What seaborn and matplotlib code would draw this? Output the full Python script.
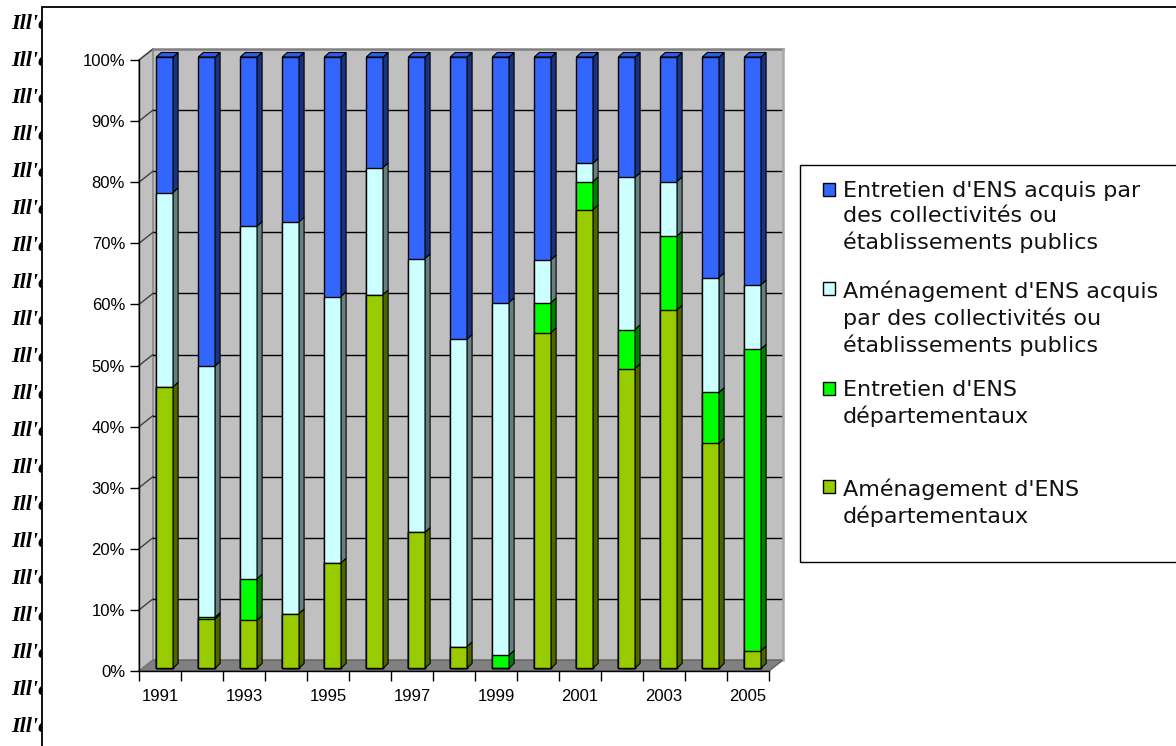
import matplotlib
matplotlib.use('Agg')
import matplotlib.pyplot as plt
import seaborn as sns
import pandas as pd
import numpy as np
from matplotlib.patches import Polygon, Rectangle
from matplotlib.lines import Line2D
from matplotlib.transforms import ScaledTranslation, IdentityTransform

years = [str(y) for y in range(1991, 2006)]
# parts in % of each year's total
amen_dept = [46.0, 8.0, 7.8, 8.9, 17.2, 61.1, 22.2, 3.5, 0.0, 54.9, 75.0, 49.0, 58.6, 36.8, 2.8]
entr_dept = [0.0, 0.3, 6.8, 0.0, 0.0, 0.0, 0.0, 0.0, 2.1, 4.9, 4.6, 6.4, 12.1, 8.3, 49.4]
amen_acq = [31.8, 41.1, 57.7, 64.1, 43.6, 20.8, 44.8, 50.3, 57.7, 7.0, 3.0, 24.9, 8.9, 18.8, 10.5]
entr_acq = [22.2, 50.6, 27.7, 27.0, 39.2, 18.1, 33.0, 46.2, 40.2, 33.2, 17.4, 19.7, 20.4, 36.1, 37.3]

labels = ["Entretien d'ENS acquis par\ndes collectivités ou\nétablissements publics",
          "Aménagement d'ENS acquis\npar des collectivités ou\nétablissements publics",
          "Entretien d'ENS\ndépartementaux",
          "Aménagement d'ENS\ndépartementaux"]
front_cols = ['#3366FF', '#CCFFFF', '#00FF00', '#99CC00']
side_cols = ['#1A3380', '#668080', '#008000', '#4D6600']
top_col = '#2E5CE6'

W, H = 1176, 746
plt.rcParams['font.family'] = ['Liberation Sans', 'DejaVu Sans']

df = pd.DataFrame({'annee': years, 'amen_dept': amen_dept, 'entr_dept': entr_dept,
                   'amen_acq': amen_acq, 'entr_acq': entr_acq})
tot = df[['amen_dept', 'entr_dept', 'amen_acq', 'entr_acq']].sum(axis=1)
for c in ['amen_dept', 'entr_dept', 'amen_acq', 'entr_acq']:
    df[c] = df[c] / tot * 100
# stacked bottoms / tops, order: blue, cyan, green, olive
c1 = df['amen_dept']
c2 = c1 + df['entr_dept']
c3 = c2 + df['amen_acq']
c4 = c3 + df['entr_acq']
tops = [c4, c3, c2, c1]
bottoms = [c3, c2, c1, c1 * 0]

fig = plt.figure(figsize=(W / 100, H / 100), dpi=100)
ax = fig.add_axes([139 / W, (H - 671) / H, 630 / W, 611 / H])

# 3D offsets in pixels (right, up)
WALL = np.array([14.0, 11.0])
FRONT = np.array([4.7, 3.0])
DEPTH = np.array([5.0, 4.5])

for i in range(4):
    n0 = len(ax.patches)
    sns.barplot(data=df.assign(v=tops[i]), x='annee', y='v', color=front_cols[i],
                saturation=1, width=0.4, edgecolor='black', linewidth=1,
                errorbar=None, ax=ax, zorder=3)
    for p in ax.patches[n0:]:
        p.set_transform(ax.transData + ScaledTranslation(FRONT[0] / 100, FRONT[1] / 100,
                                                         fig.dpi_scale_trans))
        p.set_clip_on(False)

ax.set_xlim(-0.5, 14.5)
ax.set_ylim(0, 100)
ax.patch.set_visible(False)
fig.canvas.draw()

def disp(x, y, off=(0, 0)):
    return ax.transData.transform((x, y)) + np.array(off)

# walls and floor
ident = IdentityTransform()
back = [disp(-0.5, 0, WALL), disp(14.5, 0, WALL), disp(14.5, 100, WALL), disp(-0.5, 100, WALL)]
ax.add_patch(Polygon(back, closed=True, fc='#C0C0C0', ec='none', transform=ident,
                     clip_on=False, zorder=0.5))
leftw = [disp(-0.5, 0), disp(-0.5, 0, WALL), disp(-0.5, 100, WALL), disp(-0.5, 100)]
ax.add_patch(Polygon(leftw, closed=True, fc='#C0C0C0', ec='#808080', lw=1, transform=ident,
                     clip_on=False, zorder=0.5))
floor = [disp(-0.5, 0), disp(14.5, 0), disp(14.5, 0, WALL), disp(-0.5, 0, WALL)]
ax.add_patch(Polygon(floor, closed=True, fc='#808080', ec='#606060', lw=1, transform=ident,
                     clip_on=False, zorder=0.6))
for v in range(10, 100, 10):
    a, b = disp(-0.5, v, WALL), disp(14.5, v, WALL)
    ax.add_line(Line2D([a[0], b[0]], [a[1], b[1]], color='black', lw=1, transform=ident,
                       clip_on=False, zorder=0.7))
for v in range(0, 101, 10):
    a, b = disp(-0.5, v), disp(-0.5, v, WALL)
    ax.add_line(Line2D([a[0], b[0]], [a[1], b[1]], color='#404040' if v else '#808080',
                       lw=1, transform=ident, clip_on=False, zorder=0.7))
a, b = disp(-0.5, 100, WALL), disp(14.5, 100, WALL)
ax.add_line(Line2D([a[0], b[0]], [a[1], b[1]], color='#808080', lw=1.8, transform=ident,
                   clip_on=False, zorder=0.7))
a, b = disp(14.5, 0, WALL), disp(14.5, 100, WALL)
ax.add_line(Line2D([a[0], b[0]], [a[1], b[1]], color='#A8A8A8', lw=1.8, transform=ident,
                   clip_on=False, zorder=0.7))

# side and top faces of the bars
hw = 0.2
for i in range(4):
    for k in range(len(years)):
        y0, y1 = bottoms[i][k], tops[i][k]
        if y1 - y0 <= 0:
            continue
        p0 = disp(k + hw, y0, FRONT)
        p1 = disp(k + hw, y1, FRONT)
        ax.add_patch(Polygon([p0, p1, p1 + DEPTH, p0 + DEPTH], closed=True, fc=side_cols[i],
                             ec='black', lw=0.8, transform=ident, clip_on=False, zorder=3))
        if i == 0:
            q0 = disp(k - hw, y1, FRONT)
            ax.add_patch(Polygon([q0, p1, p1 + DEPTH, q0 + DEPTH], closed=True, fc=top_col,
                                 ec='black', lw=0.8, transform=ident, clip_on=False, zorder=3))

# axes
for s in ['top', 'right']:
    ax.spines[s].set_visible(False)
for s in ['left', 'bottom']:
    ax.spines[s].set_color('black')
    ax.spines[s].set_linewidth(1)
ax.set_yticks(range(0, 101, 10))
ax.set_yticklabels([f'{v}%' for v in range(0, 101, 10)])
ax.tick_params(axis='y', direction='out', length=6.5, width=1, pad=3.5, labelsize=12,
               colors='black')
ax.set_xticks(range(0, 15, 2))
ax.set_xticklabels(years[::2])
ax.set_xticks(np.arange(-0.5, 15, 1), minor=True)
ax.tick_params(axis='x', which='major', length=0, pad=13, labelsize=12)
ax.tick_params(axis='x', which='minor', direction='out', length=7.2, width=1, color='black')
ax.set_xlabel('')
ax.set_ylabel('')

# text on the left, cut by the frame
for k in range(20):
    fig.text(11 / W, 1 - (24 + 37 * k) / H, "Ill'e", family='Liberation Serif',
             style='italic', weight='bold', fontsize=16, va='center', ha='left', zorder=2)
fig.add_artist(Rectangle((42 / W, 0), 36 / W, 1, transform=fig.transFigure,
                         fc='white', ec='none', zorder=2.5))
fig.add_artist(Rectangle((42 / W, -0.01), 1.02, 1 - 7 / H + 0.01, transform=fig.transFigure,
                         fill=False, ec='black', lw=1.3, zorder=2.6))

# legend box
fig.add_artist(Rectangle((800 / W, 1 - 562 / H), 400 / W, 397 / H, transform=fig.transFigure,
                         fill=False, ec='black', lw=1))
entry_top = [183, 282, 382, 480]
for i in range(4):
    fig.add_artist(Rectangle((823 / W, 1 - (entry_top[i] + 12.5) / H), 12 / W, 12.5 / H,
                             transform=fig.transFigure, fc=front_cols[i], ec='black', lw=1))
    fig.text(843 / W, 1 - (entry_top[i] - 2) / H, labels[i], family='DejaVu Sans',
             fontsize=16, va='top', ha='left', linespacing=1.32, color='#111111')

fig.savefig('out.png', dpi=100)
